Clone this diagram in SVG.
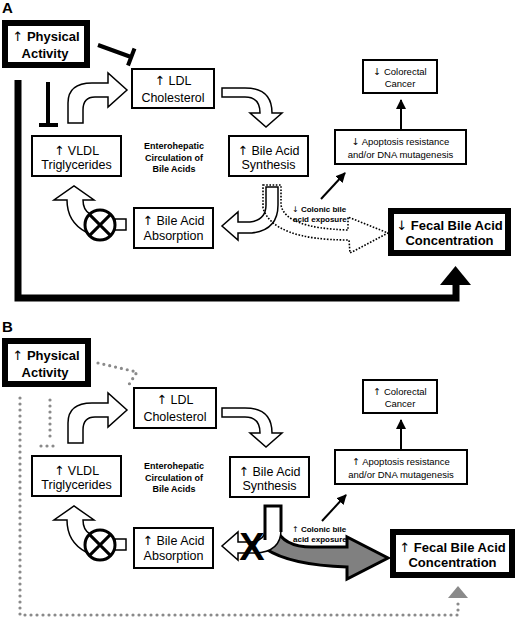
<svg xmlns="http://www.w3.org/2000/svg" width="520" height="619" viewBox="0 0 520 619">
<defs>
<style>
.box{fill:#fff;stroke:#000;stroke-width:2}
.thick{fill:#fff;stroke:#000;stroke-width:6}
.t{font-family:"Liberation Sans","DejaVu Sans",Arial,sans-serif;text-anchor:middle;fill:#000}
.n{font-size:12.5px}
.s{font-size:9.5px}
.big{font-size:13px;font-weight:bold}
.lbl{font-family:"Liberation Sans","DejaVu Sans",Arial,sans-serif;font-size:8px;font-weight:bold;fill:#000}
.eh{font-size:9px;font-weight:bold}
.pl{font-family:"Liberation Sans",Arial,sans-serif;font-size:15px;font-weight:bold;fill:#000}
.ar{font-family:"DejaVu Sans",sans-serif;font-weight:normal}
.hollow{fill:#fff;stroke:#000;stroke-width:1.5}
.inh{fill:none;stroke:#000;stroke-width:4}
.thin{fill:none;stroke:#000;stroke-width:2}
.dots{fill:none;stroke:#8a8a8a;stroke-width:3.2;stroke-linecap:round;stroke-dasharray:0 6}
.dash{fill:none;stroke:#000;stroke-width:1.6;stroke-dasharray:1.6 1.6}
.valve{fill:#fff;stroke:#000;stroke-width:3}
</style>
<marker id="ah" viewBox="0 0 10 10" refX="9" refY="5" markerWidth="10" markerHeight="10" markerUnits="userSpaceOnUse" orient="auto"><path d="M0,0 L10,5 L0,10 z" fill="#000"/></marker>
</defs>
<rect width="520" height="619" fill="#fff"/>
<text class="pl" x="2" y="13">A</text>
<text class="pl" x="2" y="332">B</text>

<g id="connectors">
<!-- Panel A -->
<path d="M18,80 L18,298 L456,298 L456,284" fill="none" stroke="#000" stroke-width="7"/>
<path d="M440,285 L471,285 L455.5,266 Z" fill="#000"/>
<path class="inh" d="M98,45 L131,57 M128,65.5 L134.5,48.5"/>
<path class="inh" d="M48,82 L48,125 M39,125 L58,125"/>
<path class="hollow" d="M68,123 L68,103 Q68,83 92,83 L108,83 L108,73 L127,90 L108,107 L108,97 L95,97 Q83,97 83,110 L83,123 Z"/>
<path class="hollow" d="M222,88 L245,88 Q272,88 272,113 L282,113 L266,127 L250,113 L260,113 Q260,97 245,97 L222,97 Z"/>
<path class="hollow" d="M266,187 L266,205 Q266,220 250,222 L238,222 L238,212 L222,226 L238,240 L238,233 L252,233 Q278,230 278,205 L278,187 Z"/>
<path class="dash" d="M263,185 L281,185 L281,205 Q285,228 348,230 L348,217 L388,233 L350,253 L349,240 Q273,240 263,208 Z"/>
<path class="hollow" d="M86,232 Q67,222 67,200 L54,200 L74,186 L94,200 L83,200 Q83,210 90,214 Z"/>
<line class="thin" x1="321" y1="199" x2="345" y2="173" marker-end="url(#ah)"/>
<line class="thin" x1="401" y1="129" x2="401" y2="100" marker-end="url(#ah)"/>
<text class="lbl" x="292" y="212"><tspan class="ar">↓</tspan> Colonic bile</text>
<text class="lbl" x="293" y="222">acid exposure</text>

<!-- Panel B -->
<path class="dots" d="M20,398 L20,615 L458,615 L458,600"/>
<path d="M448,598 L468,598 L458,586 Z" fill="#8a8a8a"/>
<path class="dots" d="M98,363 L137,372 L128,386"/>
<path class="dots" d="M50,400 L50,440 M41,446 L59,446"/>
<path class="hollow" d="M68,443 L68,423 Q68,403 92,403 L108,403 L108,393 L127,410 L108,427 L108,417 L95,417 Q83,417 83,430 L83,443 Z"/>
<path class="hollow" d="M222,408 L245,408 Q272,408 272,433 L282,433 L266,447 L250,433 L260,433 Q260,417 245,417 L222,417 Z"/>
<path d="M276,528 Q283,547 312,547 L347,547 L347,537 L388,558 L347,579 L347,567 Q290,565 266,549 Z" fill="#808080" stroke="#000" stroke-width="3" stroke-linejoin="miter"/>
<path class="hollow" d="M265,506 L265,530 Q265,541 250,542 L238,542 L238,532 L222,546 L238,560 L238,553 L255,553 Q281,552 281,530 L281,506 Z"/>
<path d="M265,540 L265,506 L281,506 L281,532" fill="none" stroke="#000" stroke-width="3"/>
<text class="t" x="252" y="560" style="font-size:38px;font-weight:bold">X</text>
<path class="hollow" d="M86,552 Q67,542 67,520 L54,520 L74,506 L94,520 L83,520 Q83,530 90,534 Z"/>
<line class="thin" x1="322" y1="521" x2="346" y2="495" marker-end="url(#ah)"/>
<line class="thin" x1="401" y1="449" x2="401" y2="420" marker-end="url(#ah)"/>
<text class="lbl" x="292" y="532"><tspan class="ar">↑</tspan> Colonic bile</text>
<text class="lbl" x="293" y="542">acid exposure</text>
</g>

<!-- Panel A nodes -->
<g id="a-physical">
<rect class="thick" x="5" y="23" width="82" height="42"/>
<text class="t big" x="46" y="41"><tspan class="ar">↑</tspan> Physical</text>
<text class="t big" x="45" y="58">Activity</text>
</g>
<g id="a-ldl">
<rect class="box" x="132" y="69" width="82" height="39"/>
<text class="t n" x="173" y="84.5"><tspan class="ar">↑</tspan> LDL</text>
<text class="t n" x="173" y="101.5">Cholesterol</text>
</g>
<g id="a-vldl">
<rect class="box" x="32" y="136" width="89" height="40"/>
<text class="t n" x="76.5" y="154.5"><tspan class="ar">↑</tspan> VLDL</text>
<text class="t n" x="76.5" y="168.5">Triglycerides</text>
</g>
<g id="a-ehc">
<text class="t eh" x="174" y="148.5">Enterohepatic</text>
<text class="t eh" x="174" y="160.5">Circulation of</text>
<text class="t eh" x="174" y="171.5">Bile Acids</text>
</g>
<g id="a-bas">
<rect class="box" x="229" y="136" width="79" height="40"/>
<text class="t n" x="268.5" y="154.5"><tspan class="ar">↑</tspan> Bile Acid</text>
<text class="t n" x="268.5" y="168.5">Synthesis</text>
</g>
<g id="a-baa">
<rect class="box" x="134" y="208" width="79" height="40"/>
<text class="t n" x="173.5" y="224.5"><tspan class="ar">↑</tspan> Bile Acid</text>
<text class="t n" x="173.5" y="239.5">Absorption</text>
</g>
<g id="a-valve">
<rect class="hollow" x="115" y="219" width="11" height="11"/>
<circle class="valve" cx="100" cy="225" r="15"/>
<path d="M89.4,214.4 L110.6,235.6 M110.6,214.4 L89.4,235.6" stroke="#000" stroke-width="3"/>
</g>
<g id="a-apop">
<rect class="box" x="335" y="130" width="131" height="34"/>
<text class="t s" x="400.5" y="145"><tspan class="ar">↓</tspan> Apoptosis resistance</text>
<text class="t s" x="400.5" y="157.5">and/or DNA mutagenesis</text>
</g>
<g id="a-crc">
<rect class="box" x="363" y="60" width="74" height="33"/>
<text class="t s" x="400" y="74.5"><tspan class="ar">↓</tspan> Colorectal</text>
<text class="t s" x="400" y="86.5">Cancer</text>
</g>
<g id="a-fecal">
<rect class="thick" x="391" y="211" width="117" height="42"/>
<text class="t big" x="449.5" y="230"><tspan class="ar">↓</tspan> Fecal Bile Acid</text>
<text class="t big" x="449.5" y="245">Concentration</text>
</g>

<!-- Panel B nodes -->
<g id="b-physical">
<rect class="thick" x="5" y="341" width="83" height="43"/>
<text class="t big" x="46" y="360"><tspan class="ar">↑</tspan> Physical</text>
<text class="t big" x="45" y="377">Activity</text>
</g>
<g id="b-ldl">
<rect class="box" x="134" y="388" width="82" height="40"/>
<text class="t n" x="175" y="404"><tspan class="ar">↑</tspan> LDL</text>
<text class="t n" x="175" y="421">Cholesterol</text>
</g>
<g id="b-vldl">
<rect class="box" x="32" y="456" width="89" height="40"/>
<text class="t n" x="76.5" y="474.5"><tspan class="ar">↑</tspan> VLDL</text>
<text class="t n" x="76.5" y="488.5">Triglycerides</text>
</g>
<g id="b-ehc">
<text class="t eh" x="174" y="468.5">Enterohepatic</text>
<text class="t eh" x="174" y="480.5">Circulation of</text>
<text class="t eh" x="174" y="491.5">Bile Acids</text>
</g>
<g id="b-bas">
<rect class="box" x="230" y="457" width="79" height="40"/>
<text class="t n" x="269.5" y="475.5"><tspan class="ar">↑</tspan> Bile Acid</text>
<text class="t n" x="269.5" y="489.5">Synthesis</text>
</g>
<g id="b-baa">
<rect class="box" x="134" y="528" width="79" height="40"/>
<text class="t n" x="173.5" y="544.5"><tspan class="ar">↑</tspan> Bile Acid</text>
<text class="t n" x="173.5" y="559.5">Absorption</text>
</g>
<g id="b-valve">
<rect class="hollow" x="115" y="539" width="11" height="11"/>
<circle class="valve" cx="100" cy="545" r="15"/>
<path d="M89.4,534.4 L110.6,555.6 M110.6,534.4 L89.4,555.6" stroke="#000" stroke-width="3"/>
</g>
<g id="b-apop">
<rect class="box" x="335" y="450" width="132" height="34"/>
<text class="t s" x="401" y="465"><tspan class="ar">↑</tspan> Apoptosis resistance</text>
<text class="t s" x="401" y="477.5">and/or DNA mutagenesis</text>
</g>
<g id="b-crc">
<rect class="box" x="363" y="380" width="74" height="33"/>
<text class="t s" x="400" y="394.5"><tspan class="ar">↑</tspan> Colorectal</text>
<text class="t s" x="400" y="406.5">Cancer</text>
</g>
<g id="b-fecal">
<rect class="thick" x="393" y="532" width="119" height="43"/>
<text class="t big" x="452.5" y="551.5"><tspan class="ar">↑</tspan> Fecal Bile Acid</text>
<text class="t big" x="452.5" y="567">Concentration</text>
</g>
</svg>
